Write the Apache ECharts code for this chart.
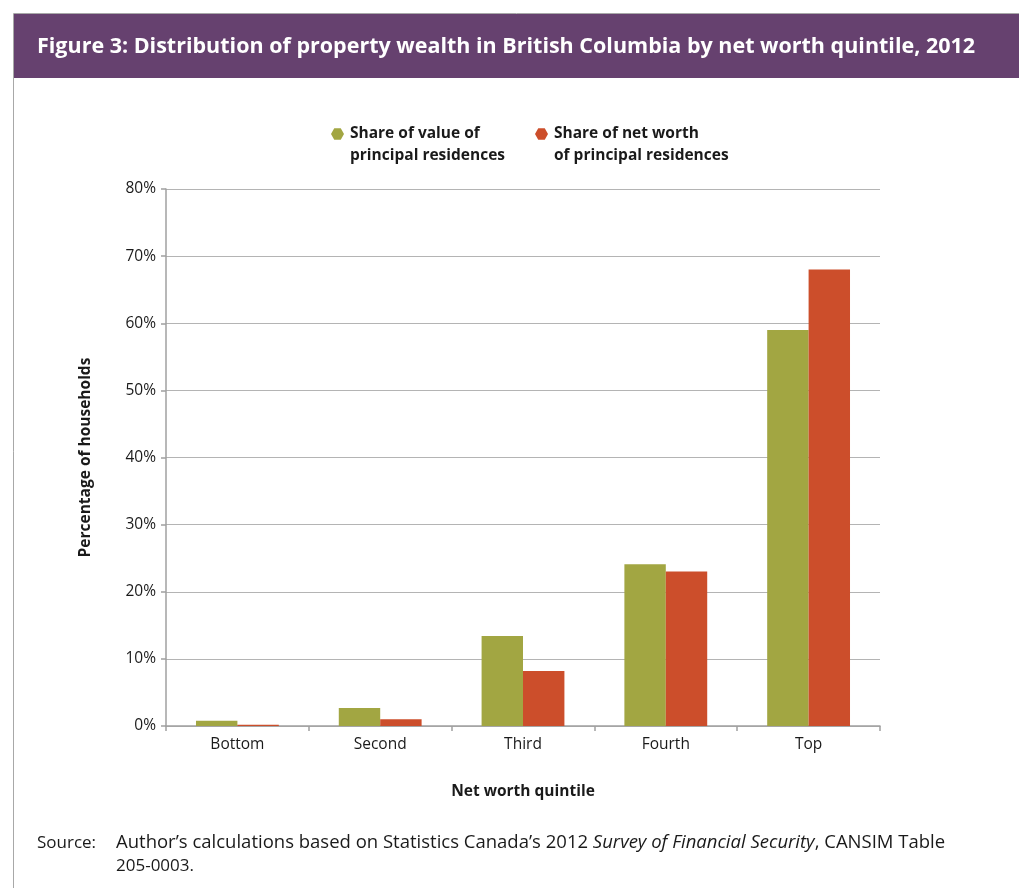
<!DOCTYPE html>
<html>
<head>
<meta charset="utf-8">
<title>Property wealth in BC</title>
<script src="https://cdn.jsdelivr.net/npm/echarts@6/dist/echarts.min.js"></script>
<style>
  html, body { margin: 0; padding: 0; background: #fff; }
  #chart { width: 1019px; height: 888px; }
</style>
</head>
<body>
<div id="chart"></div>
<script>
const quintiles = ['Bottom', 'Second', 'Third', 'Fourth', 'Top']
const valueShare = [0.8, 2.7, 13.4, 24.1, 59.0]
const netWorthShare = [0.2, 1.0, 8.2, 23.0, 68.0]
const seriesNames = ['Share of value of\nprincipal residences', 'Share of net worth\nof principal residences']
const yTicks = [0, 10, 20, 30, 40, 50, 60, 70, 80]

const FONT = '"Open Sans", "Noto Sans", sans-serif'
const hexIcon = 'path://M5,0 L15,0 L20,8.66 L15,17.32 L5,17.32 L0,8.66 Z'

const chart = echarts.init(document.getElementById('chart'))

const makeLegend = (name, left) => ({
  data: [name],
  left: left,
  top: 96,
  icon: hexIcon,
  itemWidth: 13,
  itemHeight: 12,
  itemGap: 0,
  // leading blank line keeps the marker next to the first text line
  formatter: n => '\n' + n,
  textStyle: {
    fontFamily: FONT,
    fontWeight: 'bold',
    fontSize: 15.5,
    lineHeight: 22,
    color: '#1a1a1a',
    padding: [0, 0, 0, 1]
  }
})

const option = {
  animation: false,
  textStyle: { fontFamily: FONT },
  graphic: [
    {
      type: 'rect',
      shape: { x: 13.5, y: 13.5, width: 1020, height: 900 },
      style: { fill: '#fff', stroke: '#a8a8a8', lineWidth: 1 },
      z: -10
    },
    {
      type: 'rect',
      shape: { x: 14, y: 14, width: 1010, height: 64 },
      style: { fill: '#66416f' },
      z: -5
    },
    {
      type: 'text',
      x: 37,
      y: 47,
      style: {
        text: 'Figure 3: Distribution of property wealth in British Columbia by net worth quintile, 2012',
        fill: '#fff',
        fontFamily: FONT,
        fontWeight: 'bold',
        fontSize: 21.5,
        textVerticalAlign: 'middle'
      }
    },
    {
      type: 'text',
      x: 37,
      y: 843,
      style: {
        text: 'Source:',
        fill: '#1a1a1a',
        fontFamily: FONT,
        fontSize: 17,
        textVerticalAlign: 'middle'
      }
    },
    {
      type: 'text',
      x: 116,
      y: 843,
      style: {
        text: '{n|Author\u2019s calculations based on Statistics Canada\u2019s 2012 }{i|Survey of Financial Security}{n|, CANSIM Table}',
        fill: '#1a1a1a',
        fontFamily: FONT,
        fontSize: 18,
        textVerticalAlign: 'middle',
        rich: {
          n: { fontFamily: FONT, fontSize: 18.5, fill: '#1a1a1a' },
          i: { fontFamily: FONT, fontSize: 18.5, fontStyle: 'italic', fill: '#1a1a1a' }
        }
      }
    },
    {
      type: 'text',
      x: 116,
      y: 866,
      style: {
        text: '205-0003.',
        fill: '#1a1a1a',
        fontFamily: FONT,
        fontSize: 17,
        textVerticalAlign: 'middle'
      }
    }
  ],
  legend: [
    makeLegend(seriesNames[0], 326),
    makeLegend(seriesNames[1], 530)
  ],
  grid: {
    left: 166,
    right: 139,
    top: 189,
    bottom: 162
  },
  xAxis: {
    type: 'category',
    data: quintiles,
    name: 'Net worth quintile',
    nameLocation: 'middle',
    nameGap: 58,
    nameTextStyle: {
      fontFamily: FONT,
      fontWeight: 'bold',
      fontSize: 15.5,
      color: '#1a1a1a'
    },
    axisLine: { lineStyle: { color: '#a0a0a0', width: 1.5 } },
    axisTick: { show: true, length: 5, alignWithLabel: false, lineStyle: { color: '#a0a0a0', width: 1.5 } },
    axisLabel: {
      margin: 11,
      fontFamily: FONT,
      fontSize: 15.5,
      color: '#1a1a1a'
    }
  },
  yAxis: {
    type: 'value',
    min: 0,
    max: 80,
    interval: 10,
    name: 'Percentage of households',
    nameLocation: 'middle',
    nameGap: 72,
    nameRotate: 90,
    nameTextStyle: {
      fontFamily: FONT,
      fontWeight: 'bold',
      fontSize: 15.5,
      color: '#1a1a1a'
    },
    axisLine: { show: true, lineStyle: { color: '#a0a0a0', width: 1.5 } },
    axisTick: { show: true, length: 5, lineStyle: { color: '#a0a0a0', width: 1.5 } },
    axisLabel: {
      margin: 10,
      fontFamily: FONT,
      fontSize: 15.5,
      color: '#1a1a1a',
      formatter: v => (yTicks.indexOf(v) >= 0 ? v + '%' : '')
    },
    splitLine: { lineStyle: { color: '#b4b4b4', width: 1.2 } }
  },
  series: [
    {
      name: seriesNames[0],
      type: 'bar',
      data: valueShare,
      barGap: '0%',
      barCategoryGap: '42%',
      itemStyle: { color: '#a2a642' }
    },
    {
      name: seriesNames[1],
      type: 'bar',
      data: netWorthShare,
      itemStyle: { color: '#cc4e2b' }
    }
  ]
}

chart.setOption(option)
</script>
</body>
</html>
